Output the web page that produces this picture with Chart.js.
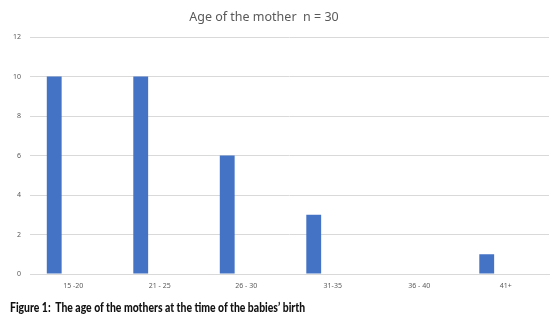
<!DOCTYPE html>
<html>
<head>
<meta charset="utf-8">
<script src="https://cdn.jsdelivr.net/npm/chart.js@4/dist/chart.umd.min.js"></script>
<style>
  html, body { margin: 0; padding: 0; background: #fff; }
  #wrap { position: relative; width: 556px; height: 322px; }
  canvas { display: block; }
  #title {
    position: absolute; top: 8px; left: 0; width: 528px; text-align: center;
    font-family: "Noto Sans", sans-serif; font-size: 12.5px; color: #595959;
    white-space: pre;
  }
  #caption {
    position: absolute; top: 299px; left: 10px;
    font-family: "Lato", sans-serif; font-weight: 900; font-size: 13px; color: #111;
    white-space: pre; transform: scaleX(0.8); transform-origin: left top;
  }
</style>
</head>
<body>
<div id="wrap">
  <canvas id="ageChart" width="556" height="322"></canvas>
  <div id="title">Age of the mother  n = 30</div>
  <div id="caption">Figure 1:  The age of the mothers at the time of the babies’ birth</div>
</div>
<script>
// categories and counts
const ageGroups = ['15 -20', '21 - 25', '26 - 30', '31-35', '36 - 40', '41+'];
const motherCounts = [10, 10, 6, 3, 0, 1];
// empty second series (gives the left-shifted bars like the original)
const emptySeries = [null, null, null, null, null, null];
const yTicks = [0, 2, 4, 6, 8, 10, 12];

const tickColor = '#595959';
const gridColor = '#d9d9d9';

new Chart(document.getElementById('ageChart'), {
    type: 'bar',
    data: {
        labels: ageGroups,
        datasets: [{
            label: 'Age of the mother',
            data: motherCounts,
            backgroundColor: '#4472C4',
            borderWidth: 0,
            categoryPercentage: 0.88,
            barPercentage: 0.39
        }, {
            label: 'empty',
            data: emptySeries,
            backgroundColor: '#ED7D31',
            categoryPercentage: 0.88,
            barPercentage: 0.39
        }]
    },
    options: {
        responsive: false,
        animation: false,
        layout: {
            padding: { left: 0, right: 7, top: 37, bottom: 28 }
        },
        plugins: {
            legend: { display: false },
            title: { display: false },
            tooltip: { enabled: false }
        },
        scales: {
            x: {
                grid: { display: false, drawTicks: false },
                border: { display: true, color: gridColor },
                ticks: {
                    color: tickColor,
                    font: { family: 'Noto Sans', size: 7 },
                    padding: 8,
                    maxRotation: 0
                },
                afterFit: scale => { scale.height = 20; }
            },
            y: {
                min: 0,
                max: 12,
                afterBuildTicks: scale => {
                    scale.ticks = yTicks.map(v => ({ value: v }));
                },
                grid: { color: gridColor, drawTicks: false },
                border: { display: false },
                ticks: {
                    color: tickColor,
                    font: { family: 'Noto Sans', size: 7 },
                    padding: 9
                },
                afterFit: scale => { scale.width = 30; }
            }
        }
    }
});
</script>
</body>
</html>
